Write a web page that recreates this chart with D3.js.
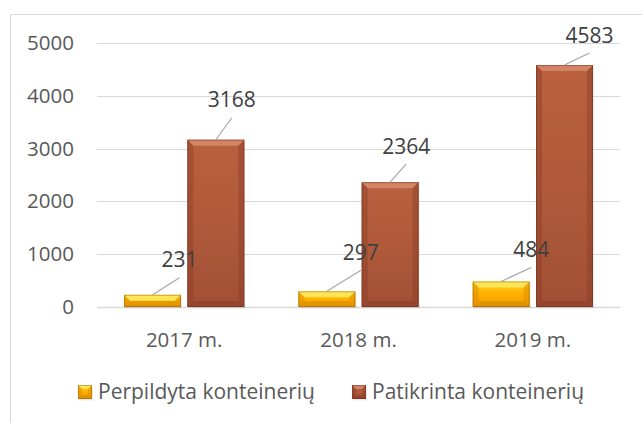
<!DOCTYPE html>
<html>
<head>
<meta charset="utf-8">
<script src="https://cdn.jsdelivr.net/npm/d3@7"></script>
<style>
	body { margin: 0; background: #fff; }
	text { font-family: "Open Sans", "Noto Sans", sans-serif; fill: #595959; }
</style>
</head>
<body>
<div id="chart"></div>
<script>
var categories = ['2017 m.', '2018 m.', '2019 m.'];
var seriesNames = ['Perpildyta konteinerių', 'Patikrinta konteinerių'];
var perpildyta = [231, 297, 484];
var patikrinta = [3168, 2364, 4583];
var yTicks = [0, 1000, 2000, 3000, 4000, 5000];

// label leader offsets (dx, dy from top of bar)
var labelOffsets = [
	[[27, -35], [16, -40]],
	[[34, -39], [16, -36]],
	[[30, -32], [25, -30]]
];

var svg = d3.select('#chart').append('svg').attr('width', 642).attr('height', 423);

svg.append('rect')
	.attr('x', 10.5).attr('y', 14.5)
	.attr('width', 700).attr('height', 500)
	.attr('fill', '#fff')
	.attr('stroke', '#d9d9d9');

var x0 = d3.scaleBand()
	.domain(categories)
	.range([97, 620]);

var yScale = d3.scaleLinear()
	.domain([0, 5000])
	.range([307, 43]);

var defs = svg.append('defs');

var palettes = [
	{ top: '#ffd21f', mid: '#ffb000', bot: '#ee9c00', bevTop: '#ffe55a', bevSide: '#d98800', bevBot: '#c97c00', edge: '#7a4f00' },
	{ top: '#b9603f', mid: '#b05a3b', bot: '#a14f35', bevTop: '#d48466', bevSide: '#8c3f28', bevBot: '#7d3522', edge: '#5e2617' }
];

palettes.forEach(function(p, i) {
	var g = defs.append('linearGradient').attr('id', 'grad' + i)
		.attr('x1', 0).attr('y1', 0).attr('x2', 0).attr('y2', 1);
	g.append('stop').attr('offset', '0%').attr('stop-color', p.top);
	g.append('stop').attr('offset', '50%').attr('stop-color', p.mid);
	g.append('stop').attr('offset', '100%').attr('stop-color', p.bot);
});

// gridlines
svg.append('g').selectAll('line')
	.data(yTicks)
	.enter().append('line')
	.attr('x1', 97).attr('x2', 620)
	.attr('y1', function(d) { return Math.round(yScale(d)) + 0.5; })
	.attr('y2', function(d) { return Math.round(yScale(d)) + 0.5; })
	.attr('stroke', '#d9d9d9')
	.attr('stroke-width', function(d) { return d === 0 ? 1.5 : 1; });

// y labels
svg.append('g').selectAll('text')
	.data(yTicks)
	.enter().append('text')
	.attr('x', 74)
	.attr('y', function(d) { return yScale(d) + 7; })
	.attr('text-anchor', 'end')
	.style('font-size', '20.5px')
	.text(function(d) { return d; });

// x labels
svg.append('g').selectAll('text')
	.data(categories)
	.enter().append('text')
	.attr('x', function(d) { return x0(d) + x0.bandwidth() / 2; })
	.attr('y', 347)
	.attr('text-anchor', 'middle')
	.style('font-size', '20.5px')
	.text(function(d) { return d; });

var groupW = x0.bandwidth() * 0.69;
var x1 = d3.scaleBand()
	.domain([0, 1])
	.range([0, groupW])
	.paddingInner(0.1);

function bevelBar(g, x, y, w, h, p, gradId, bev) {
	var b = Math.min(bev, h / 2, w / 2);
	g.append('rect')
		.attr('x', x + 1).attr('y', y + 1.5)
		.attr('width', w).attr('height', h)
		.attr('fill', '#000').attr('opacity', 0.08);
	g.append('rect')
		.attr('x', x).attr('y', y)
		.attr('width', w).attr('height', h)
		.attr('fill', 'url(#' + gradId + ')');
	g.append('polygon')
		.attr('points', [[x, y], [x + w, y], [x + w - b, y + b], [x + b, y + b]].join(' '))
		.attr('fill', p.bevTop);
	g.append('polygon')
		.attr('points', [[x, y], [x + b, y + b], [x + b, y + h - b], [x, y + h]].join(' '))
		.attr('fill', p.bevSide).attr('opacity', 0.45);
	g.append('polygon')
		.attr('points', [[x + w, y], [x + w - b, y + b], [x + w - b, y + h - b], [x + w, y + h]].join(' '))
		.attr('fill', p.bevSide).attr('opacity', 0.45);
	g.append('polygon')
		.attr('points', [[x, y + h], [x + b, y + h - b], [x + w - b, y + h - b], [x + w, y + h]].join(' '))
		.attr('fill', p.bevBot).attr('opacity', 0.4);
	g.append('rect')
		.attr('x', x + 0.5).attr('y', y + 0.5)
		.attr('width', w - 1).attr('height', h - 1)
		.attr('fill', 'none')
		.attr('stroke', p.edge).attr('stroke-opacity', 0.4);
}

var series = [perpildyta, patikrinta];
var barsG = svg.append('g');
var labelsG = svg.append('g');

categories.forEach(function(cat, ci) {
	var gx = x0(cat) + (x0.bandwidth() - groupW) / 2;
	series.forEach(function(vals, si) {
		var v = vals[ci];
		var bx = gx + x1(si);
		var bw = x1.bandwidth();
		var by = yScale(v);
		var bh = yScale(0) - by;
		bevelBar(barsG, bx, by, bw, bh, palettes[si], 'grad' + si, 6);

		var off = labelOffsets[ci][si];
		var cx = bx + bw / 2;
		labelsG.append('line')
			.attr('x1', cx).attr('y1', by)
			.attr('x2', cx + off[0]).attr('y2', by + off[1] + 18)
			.attr('stroke', '#a6a6a6')
			.attr('stroke-width', 1.2);
		labelsG.append('text')
			.attr('x', cx + off[0])
			.attr('y', by + off[1] + 7.5)
			.attr('text-anchor', 'middle')
			.style('font-size', '21px')
			.style('fill', '#404040')
			.text(v);
	});
});

// legend
var legendItems = [
	{ name: seriesNames[0], x: 78 },
	{ name: seriesNames[1], x: 352 }
];
legendItems.forEach(function(d, i) {
	var lg = svg.append('g').attr('transform', 'translate(' + d.x + ',385)');
	bevelBar(lg, 0, 0, 14, 14, palettes[i], 'grad' + i, 4);
	lg.append('text')
		.attr('x', 20)
		.attr('y', 14)
		.style('font-size', '21px')
		.text(d.name);
});
</script>
</body>
</html>
